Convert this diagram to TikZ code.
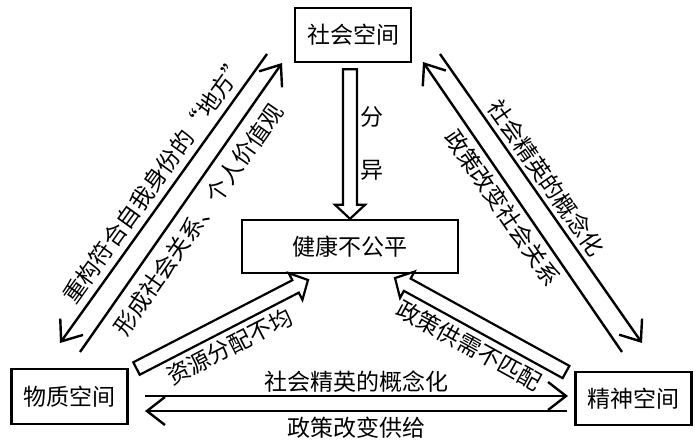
\documentclass[tikz,border=0pt]{standalone}
\usepackage{fontspec}
\setmainfont{Noto Sans CJK SC}
\usetikzlibrary{arrows.meta,calc}

\begin{document}
\begin{tikzpicture}[
  x=1pt, y=-1pt,
  txt/.style={font=\fontsize{23}{27}\selectfont},
  box/.style={draw, txt, line width=2.4pt, inner sep=0pt, minimum width=116pt, minimum height=54pt},
  arr/.style={-{Straight Barb[length=18pt, width=28pt]}, line width=2.4pt},
  hollow/.style={draw, fill=white, line width=2.2pt, line join=miter},
  lbl/.style={txt, inner sep=0pt, sloped}]
  \useasboundingbox (0,0) rectangle (700,444);
  % the four spaces
  \node[box] (soc) at (353,35) {社会空间};
  \node[box, minimum width=216pt, minimum height=53pt] (health) at (350,246.5) {健康不公平};
  \node[box, minimum height=55pt] (mat) at (69.5,396.5) {物质空间};
  \node[box, minimum height=53pt] (spi) at (633.5,398.5) {精神空间};
  % ends of the arrows
  \coordinate (a1s) at (267,54);  \coordinate (a1e) at (60,343);
  \coordinate (a2s) at (80,352);  \coordinate (a2e) at (282,63);
  \coordinate (b1s) at (440,54);  \coordinate (b1e) at (642,343);
  \coordinate (b2s) at (622,352); \coordinate (b2e) at (423,62);
  \coordinate (c1s) at (145,396); \coordinate (c1e) at (568,396);
  \coordinate (c2s) at (567,411); \coordinate (c2e) at (145,411);
  \coordinate (h1s) at (136.5,368.5); \coordinate (h1e) at (308,280);
  \coordinate (h2s) at (566,372); \coordinate (h2e) at (395,278);
  \coordinate (vs) at ($(health.north |- soc.south)+(0,6)$);
  \coordinate (ve) at (health.north);
  % hollow arrows into health
  \foreach \s/\e in {vs/ve,h1s/h1e,h2s/h2e}{
    \coordinate (hb) at ($(\e)!14pt!(\s)$);
    \draw[hollow] ($(\s)!7pt!90:(\e)$) -- ($(hb)!7pt!90:(\e)$) -- ($(hb)!15pt!90:(\e)$) -- (\e)
      -- ($(hb)!15pt!-90:(\e)$) -- ($(hb)!7pt!-90:(\e)$) -- ($(\s)!7pt!-90:(\e)$) -- cycle;
  }
  \node[txt, align=center, inner sep=0pt] (split) at (372,143) {分\\[26pt]异};
  \path (h1s) -- node[lbl, pos=0.48, yshift=-23pt] {资源分配不均} (h1e);
  \path (h2s) -- node[lbl, pos=0.5, yshift=-23pt] {政策供需不匹配} (h2e);
  % pairs of arrows
  \draw[arr] (a1s) -- node[lbl, pos=0.47, yshift=18pt] {重构符合自我身份的“地方”} (a1e);
  \draw[arr] (a2s) -- node[lbl, pos=0.5, yshift=-21pt] {形成社会关系、个人价值观} (a2e);
  \draw[arr] (b1s) -- node[lbl, pos=0.46, yshift=16pt] {社会精英的概念化} (b1e);
  \draw[arr] (b2s) -- node[lbl, pos=0.53, yshift=-17pt] {政策改变社会关系} (b2e);
  \draw[arr] (c1s) -- node[lbl, pos=0.5, yshift=14pt] {社会精英的概念化} (c1e);
  \draw[arr] (c2s) -- node[lbl, pos=0.5, yshift=-17pt] {政策改变供给} (c2e);
\end{tikzpicture}
\end{document}
